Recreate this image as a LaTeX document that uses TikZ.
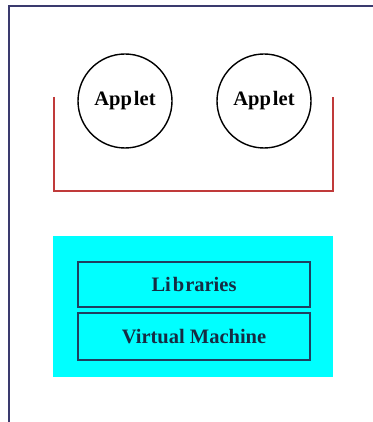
\documentclass[tikz,border=0pt]{standalone}
\usepackage{fontspec}
\setmainfont{Liberation Serif}
\definecolor{framecol}{HTML}{3A3A6E}
\definecolor{bracketcol}{HTML}{C03A3A}
\definecolor{layerfill}{HTML}{00FFFF}
\definecolor{layerline}{HTML}{1F3F5F}
\tikzset{
  x=1pt, y=-1pt,
  label font/.style={font=\fontsize{20.5}{22}\selectfont\bfseries},
  appletnode/.style={circle, draw=black, line width=1.4pt, minimum size=94pt, inner sep=0pt, label font},
  layerbox/.style={draw=layerline, line width=1.4pt, minimum width=232pt, minimum height=45pt, inner sep=0pt, label font, text=layerline!70!black},
}
\begin{document}
\begin{tikzpicture}
  \useasboundingbox (0,0) rectangle (372,422);
  \fill[white] (0,0) rectangle (372,422);
  % outer frame (top and left edges)
  \draw[framecol, line width=2pt] (8.5,423) -- (8.5,6.5) -- (373,6.5);
  % applets
  \node[appletnode] (applet1) at (125,101) {App\kern2pt let};
  \node[appletnode] (applet2) at (264,101) {App\kern2pt let};
  % sandbox bracket around the applets
  \coordinate (brTL) at (54,97);
  \coordinate (brBL) at (54,191);
  \coordinate (brBR) at (333,191);
  \coordinate (brTR) at (333,97);
  \draw[bracketcol, line width=1.4pt] (brTL) -- (brBL) -- (brBR) -- (brTR);
  % runtime platform
  \node[fill=layerfill, minimum width=280pt, minimum height=141pt, inner sep=0pt] (platform) at (193,306.5) {};
  \node[layerbox] (libs) at (194,284.5) {Li\kern2pt b\kern1pt raries};
  \node[layerbox, minimum height=47pt] (vm) at (194,336.5) {Virtual Machine};
\end{tikzpicture}
\end{document}
